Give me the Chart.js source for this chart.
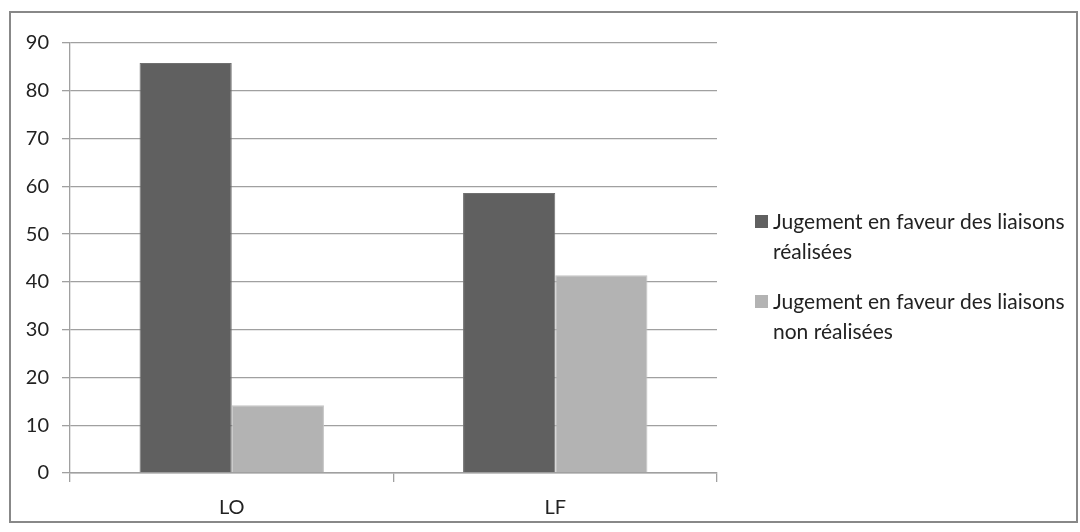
<!DOCTYPE html>
<html><head><meta charset="utf-8">
<script src="https://cdn.jsdelivr.net/npm/chart.js@4"></script>
<style>html,body{margin:0;padding:0;background:#fff}#wrap{width:1080px;height:532px;position:relative}</style>
</head><body><div id="wrap"><canvas id="c" width="1080" height="532"></canvas></div>
<script>
const categories = ['LO', 'LF'];
const realisees = [85.8, 58.6];
const nonRealisees = [14.2, 41.4];
const seriesLabels = [
  ['Jugement en faveur des liaisons', 'réalisées'],
  ['Jugement en faveur des liaisons', 'non réalisées']
];
const yMin = 0, yMax = 90, yStep = 10;

const FONT = 'Lato, "Open Sans", sans-serif';

const frame = {
  id: 'frame',
  beforeDraw(chart) {
    const ctx = chart.ctx;
    ctx.save();
    ctx.strokeStyle = '#888888';
    ctx.lineWidth = 2;
    ctx.strokeRect(10, 12, 1067, 510);
    ctx.restore();
  }
};

const sideLegend = {
  id: 'sideLegend',
  afterDraw(chart) {
    const ctx = chart.ctx;
    ctx.save();
    ctx.font = '21px ' + FONT;
    ctx.textBaseline = 'middle';
    const starts = [222, 302];
    chart.data.datasets.forEach((ds, i) => {
      const y0 = starts[i];
      ctx.fillStyle = ds.backgroundColor;
      ctx.fillRect(755, y0 - 7, 13, 13);
      ctx.fillStyle = '#222';
      ds.label.forEach((line, j) => {
        ctx.fillText(line, 773, y0 + j * 30);
      });
    });
    ctx.restore();
  }
};

new Chart(document.getElementById('c'), {
  type: 'bar',
  data: {
    labels: categories,
    datasets: [
      { label: seriesLabels[0], data: realisees, backgroundColor: '#606060', borderColor: '#707070', borderWidth: 1 },
      { label: seriesLabels[1], data: nonRealisees, backgroundColor: '#b3b3b3', borderColor: '#c4c4c4', borderWidth: 1 }
    ]
  },
  options: {
    responsive: false,
    animation: false,
    devicePixelRatio: 1,
    categoryPercentage: 0.57,
    barPercentage: 1.0,
    layout: { padding: { left: 10, right: 363, top: 43, bottom: 10 } },
    plugins: { legend: { display: false }, tooltip: { enabled: false } },
    scales: {
      x: {
        offset: true,
        grid: { offset: true, drawOnChartArea: false, drawTicks: true, tickLength: 9, color: '#a0a0a0', lineWidth: 1.3 },
        border: { display: true, color: '#a0a0a0', width: 1.5 },
        ticks: { color: '#222', font: { family: FONT, size: 20 }, padding: 14 },
        afterFit(scale) { scale.height = 49; }
      },
      y: {
        min: yMin, max: yMax,
        ticks: { stepSize: yStep, color: '#222', font: { family: FONT, size: 20 }, padding: 13 },
        grid: { color: '#a0a0a0', lineWidth: 1.3, tickLength: 8 },
        border: { display: true, color: '#a0a0a0', width: 1.3 },
        afterFit(scale) { scale.width = 60; }
      }
    }
  },
  plugins: [frame, sideLegend]
});
</script></body></html>
